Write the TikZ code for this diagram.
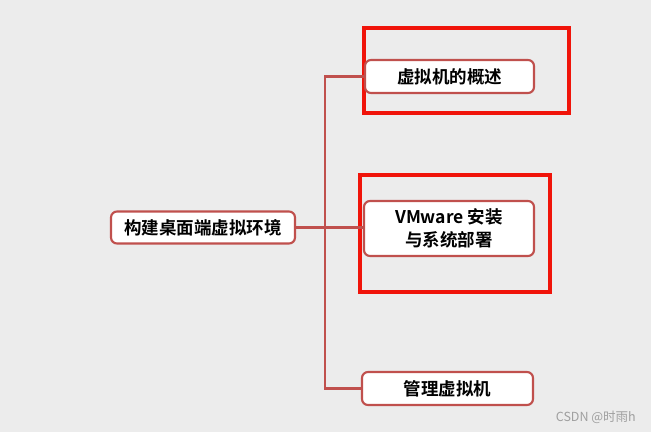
\documentclass[tikz,border=0pt]{standalone}
\usepackage{fontspec}
\setmainfont{Noto Sans CJK SC}
\newfontfamily\cjkb[BoldFont={* Bold}]{Noto Sans CJK SC}
\usetikzlibrary{positioning}
\definecolor{linec}{RGB}{192,80,77}
\definecolor{bgc}{RGB}{236,236,236}
\definecolor{redbox}{RGB}{240,20,10}
\begin{document}
\begin{tikzpicture}[x=1pt,y=-1pt,
  topic/.style={draw=linec,line width=2.1pt,fill=white,rounded corners=6pt,
    font=\cjkb\bfseries\fontsize{17.5}{23}\selectfont,align=center,inner sep=0pt},
  conn/.style={draw=linec,line width=2.2pt},
  hilite/.style={draw=redbox,line width=3.2pt}]
\useasboundingbox (0,0) rectangle (651,432);
\fill[bgc] (0,0) rectangle (651,432);
% highlight boxes
\draw[hilite] (364,28) rectangle (569,113);
\draw[hilite] (360,175) rectangle (550,292);
% nodes
\node[topic,minimum width=184pt,minimum height=32pt] (root) at (203,227.5) {构建桌面端虚拟环境};
\node[topic,minimum width=169pt,minimum height=33pt] (a) at (449.5,76.5) {虚拟机的概述};
\node[topic,minimum width=170pt,minimum height=55pt] (b) at (449,228.5) {VMware 安装\\与系统部署};
\node[topic,minimum width=171pt,minimum height=33pt] (c) at (447.5,388.5) {管理虚拟机};
% connectors
\coordinate (tr) at (325,227.5);
\draw[conn] (root.east) -- (tr);
\draw[conn] (a.west) -| (tr) |- (c.west);
\draw[conn] (tr) -- (tr -| b.west);
% watermark
\node[font=\fontsize{12.5}{14}\selectfont,text=gray!75,anchor=east,inner sep=0pt] (wm) at (636,417) {CSDN @时雨h};
\end{tikzpicture}
\end{document}
